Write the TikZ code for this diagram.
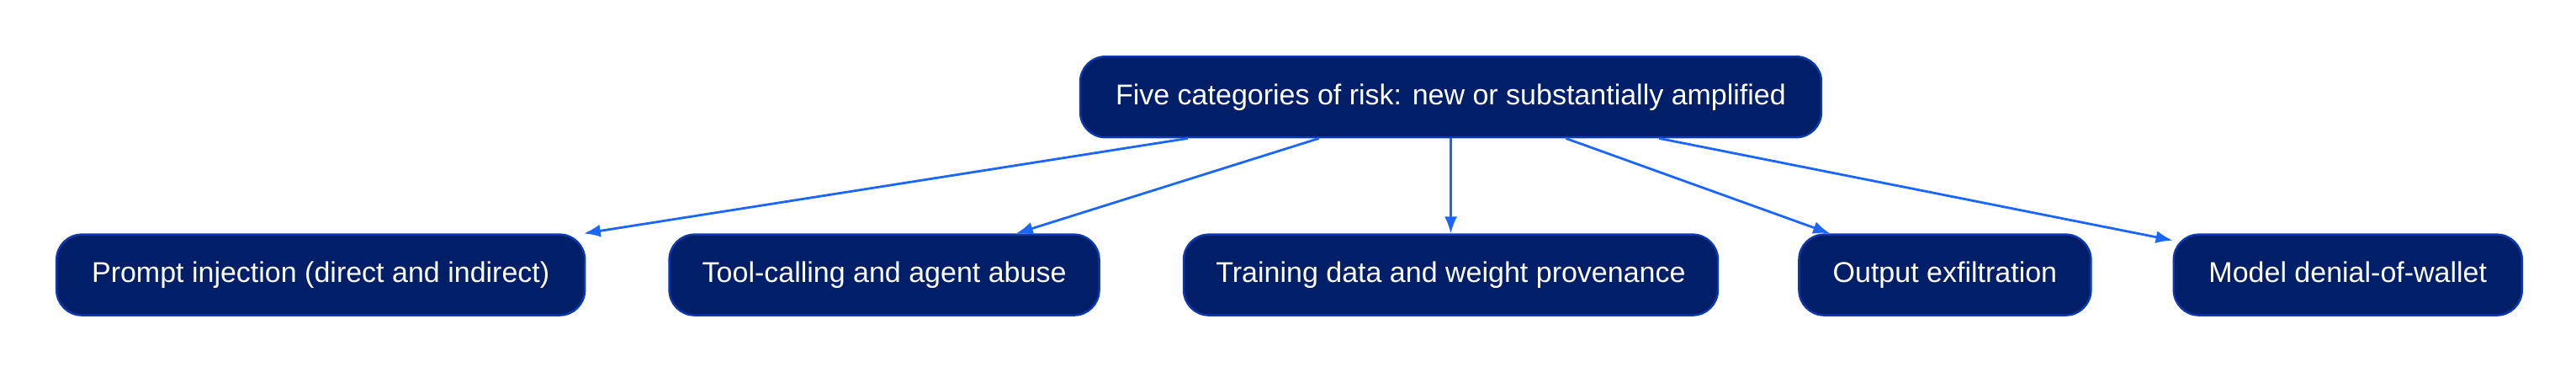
\documentclass[tikz,border=0pt]{standalone}
\usepackage{fontspec}
\setmainfont{Liberation Sans}
\usepackage{xcolor}
\usepackage{tikz}
\usetikzlibrary{arrows.meta,positioning,calc}

\definecolor{navyfill}{HTML}{011E69}
\definecolor{navyedge}{HTML}{0B39B0}
\definecolor{linkblue}{HTML}{1A66FF}

\begin{document}
\begin{tikzpicture}[
  riskbox/.style={draw=navyedge, fill=navyfill, line width=1.2pt, rounded corners=15pt, text=white, font=\fontsize{17}{20}\selectfont, inner xsep=8pt, text height=12.5pt, text depth=3.5pt, minimum height=48pt},
  link/.style={draw=linkblue, line width=1.4pt, -{Latex[length=10pt,width=7.5pt]}}
]
\node[riskbox, minimum width=314pt] (inj) {Prompt injection (direct and indirect)};
\node[riskbox, minimum width=255.5pt, right=49pt of inj] (tool) {Tool-calling and agent abuse};
\node[riskbox, minimum width=317.5pt, right=49pt of tool] (prov) {Training data and weight provenance};
\node[riskbox, minimum width=173.5pt, right=47pt of prov] (exfil) {Output exfiltration};
\node[riskbox, minimum width=207pt, right=48pt of exfil] (wallet) {Model denial-of-wallet};
\node[riskbox, minimum width=440.5pt, above=56.5pt of prov] (risk) {Five categories of risk: new or substantially amplified};

\draw[link] (risk) -- (inj);
\draw[link] (risk) -- (tool);
\draw[link] (risk) -- (prov);
\draw[link] (risk) -- (exfil);
\draw[link] (risk) -- (wallet);

\useasboundingbox ($(inj.west |- risk.north)+(-33pt,33pt)$) rectangle +(1531pt,-220.5pt);
\end{tikzpicture}
\end{document}
